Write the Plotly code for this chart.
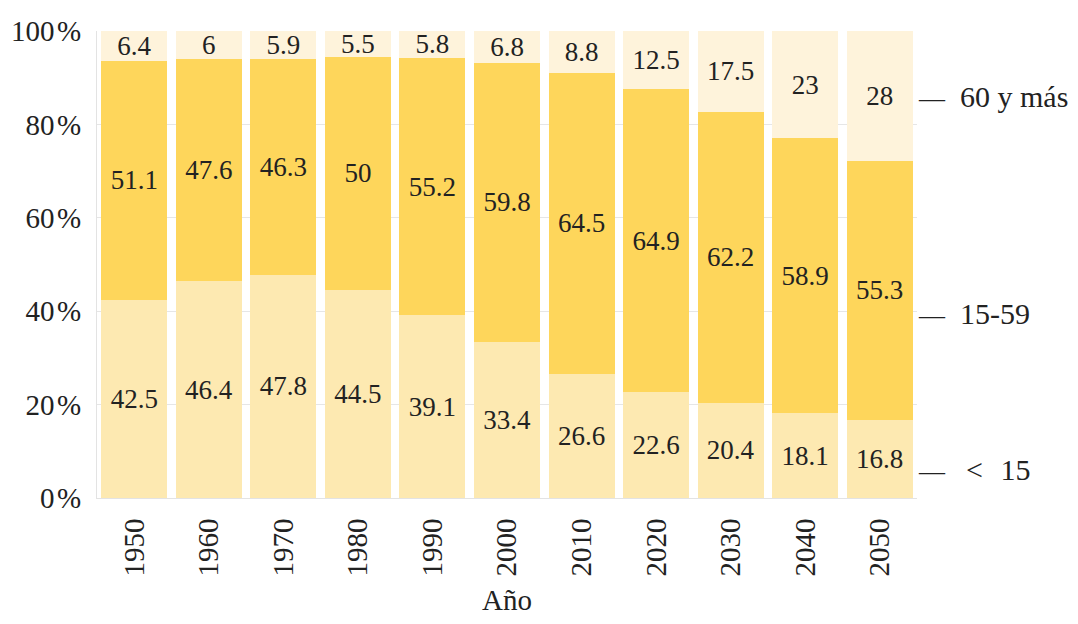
import plotly.graph_objects as go

years = ["1950", "1960", "1970", "1980", "1990", "2000", "2010", "2020", "2030", "2040", "2050"]
menores_15 = [42.5, 46.4, 47.8, 44.5, 39.1, 33.4, 26.6, 22.6, 20.4, 18.1, 16.8]
entre_15_59 = [51.1, 47.6, 46.3, 50, 55.2, 59.8, 64.5, 64.9, 62.2, 58.9, 55.3]
mayores_60 = [6.4, 6, 5.9, 5.5, 5.8, 6.8, 8.8, 12.5, 17.5, 23, 28]

series_names = ["< 15", "15-59", "60 y más"]
series_values = [menores_15, entre_15_59, mayores_60]
series_colors = ["#FDE9B1", "#FED65B", "#FEF3DB"]
label_y = [6, 39.6, 86]

FONT = "Liberation Serif"
TXT = "#222222"

fig = go.Figure()
for name, vals, col in zip(series_names, series_values, series_colors):
    fig.add_trace(go.Bar(
        x=years, y=vals, name=name,
        marker=dict(color=col, line=dict(width=0)),
        text=[f"{v:g}" for v in vals],
        textposition="inside", insidetextanchor="middle",
        constraintext="none", textangle=0,
        textfont=dict(family=FONT, size=27, color=TXT),
        hoverinfo="skip",
    ))

for name, yv in zip(series_names, label_y):
    if name == "< 15":
        label = "\u2009<\u2002\u200a15"
    else:
        label = name
    fig.add_annotation(
        x=0.999, xref="paper", y=yv, yref="y",
        text=f"<span style='font-size:26px'>—</span>\u2002{label}",
        showarrow=False, xanchor="left", yanchor="middle",
        font=dict(family=FONT, size=30, color=TXT),
    )

fig.update_layout(
    barmode="stack",
    bargap=0.115,
    width=1070, height=608,
    margin=dict(l=89, r=161, t=23, b=118, autoexpand=False),
    plot_bgcolor="white", paper_bgcolor="white",
    showlegend=False,
    font=dict(family=FONT, size=28, color=TXT),
)
fig.update_xaxes(
    tickangle=-90, showgrid=False, automargin=False,
    showline=True, linecolor="#e3e3e3", linewidth=1,
    tickfont=dict(family=FONT, size=29, color=TXT),
    title=dict(text="Año", font=dict(family=FONT, size=29, color=TXT), standoff=26),
    ticks="", ticklabelstandoff=8,
)
fig.update_yaxes(
    range=[0, 100], dtick=20, ticksuffix="\u200a%", automargin=False,
    showgrid=True, gridcolor="#e6e6e6", gridwidth=1,
    showline=True, linecolor="#e3e3e3", linewidth=1,
    zeroline=False,
    tickfont=dict(family=FONT, size=29, color=TXT),
    ticks="", ticklabelstandoff=9,
)

fig.write_html("out.html")
